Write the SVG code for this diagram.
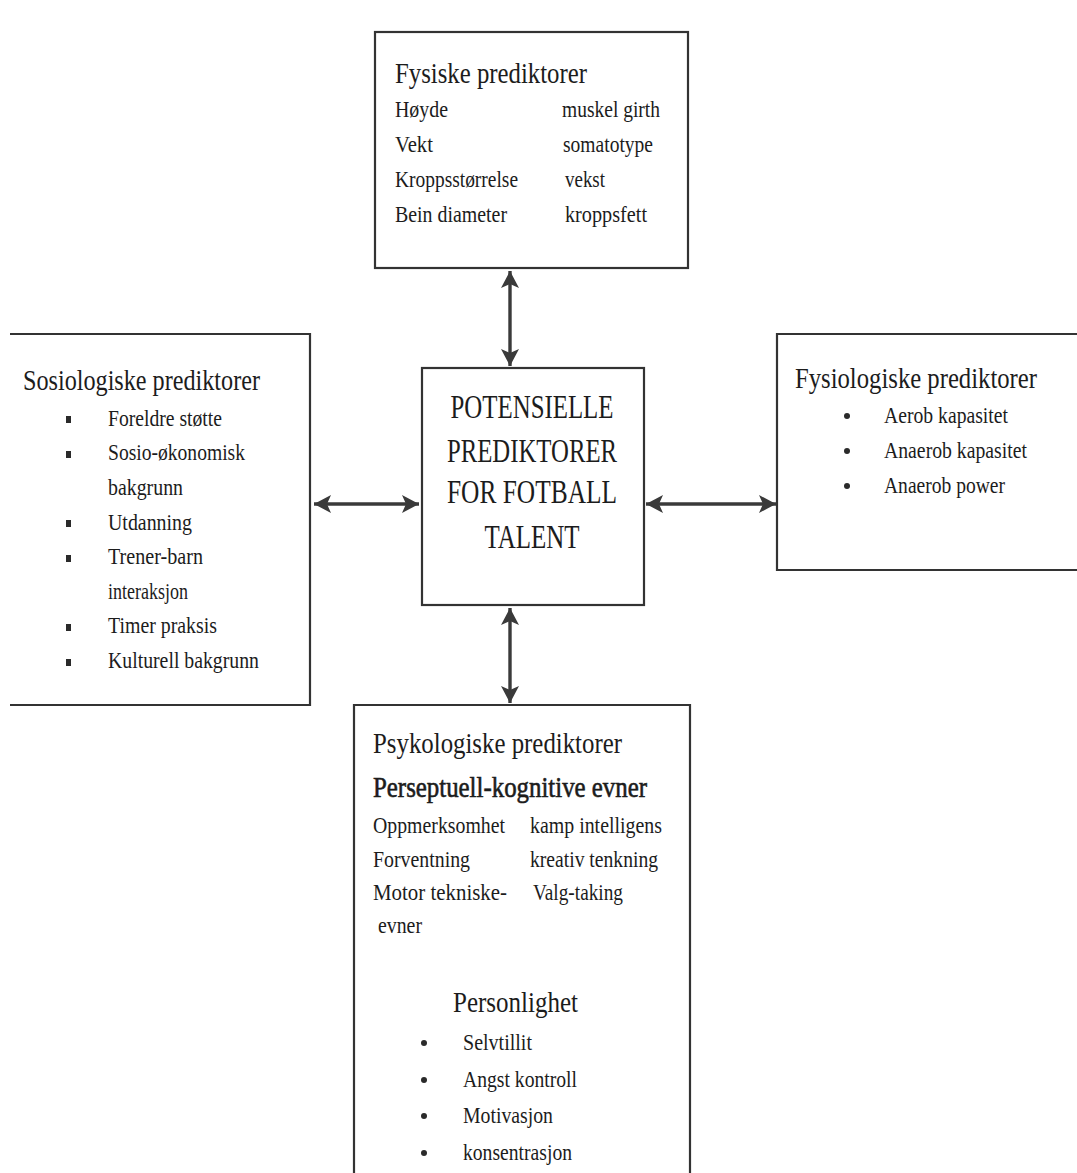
<svg xmlns="http://www.w3.org/2000/svg" width="1077" height="1173" viewBox="0 0 1077 1173">
<style>
.box{fill:#fff;stroke:#333;stroke-width:2.2}
text{font-family:"Liberation Serif","Times New Roman",serif;fill:#1c1c1c}
.h{font-size:29px}
.i{font-size:24px}
.c{font-size:33px}
.conn{stroke:#3a3a3a;stroke-width:3.4;fill:none;marker-start:url(#ah);marker-end:url(#ah)}
.b{fill:#2a2a2a}
</style>
<defs>
<marker id="ah" markerUnits="userSpaceOnUse" markerWidth="20" markerHeight="18" refX="17" refY="9" orient="auto-start-reverse">
<path d="M0,0 L17,9 L0,18 L4,9 z" fill="#3a3a3a"/>
</marker>
</defs>
<rect width="1077" height="1173" fill="#fff"/>

<g id="connectors">
<line class="conn" x1="510" y1="271" x2="510" y2="366"/>
<line class="conn" x1="314" y1="504" x2="419" y2="504"/>
<line class="conn" x1="646" y1="504" x2="776" y2="504"/>
<line class="conn" x1="510" y1="608" x2="510" y2="703"/>
</g>

<g id="fysiske">
<rect class="box" x="375" y="32" width="313" height="236"/>
<text class="h" x="395" y="83" textLength="192" lengthAdjust="spacingAndGlyphs">Fysiske prediktorer</text>
<text class="i" x="395" y="117" textLength="53" lengthAdjust="spacingAndGlyphs">Høyde</text>
<text class="i" x="395" y="152" textLength="38" lengthAdjust="spacingAndGlyphs">Vekt</text>
<text class="i" x="395" y="187" textLength="123" lengthAdjust="spacingAndGlyphs">Kroppsstørrelse</text>
<text class="i" x="395" y="222" textLength="112" lengthAdjust="spacingAndGlyphs">Bein diameter</text>
<text class="i" x="562" y="117" textLength="98" lengthAdjust="spacingAndGlyphs">muskel girth</text>
<text class="i" x="563" y="152" textLength="90" lengthAdjust="spacingAndGlyphs">somatotype</text>
<text class="i" x="565" y="187" textLength="40" lengthAdjust="spacingAndGlyphs">vekst</text>
<text class="i" x="565" y="222" textLength="82" lengthAdjust="spacingAndGlyphs">kroppsfett</text>
</g>

<g id="sosiologiske">
<rect x="10" y="334" width="300" height="371" fill="#fff"/>
<path d="M10,334 H310 V705 H10" fill="none" stroke="#333" stroke-width="2.2"/>
<text class="h" x="23" y="390" textLength="237" lengthAdjust="spacingAndGlyphs">Sosiologiske prediktorer</text>
<rect class="b" x="66" y="416" width="5" height="7"/>
<text class="i" x="108" y="426" textLength="114" lengthAdjust="spacingAndGlyphs">Foreldre støtte</text>
<rect class="b" x="66" y="451" width="5" height="7"/>
<text class="i" x="108" y="460" textLength="137" lengthAdjust="spacingAndGlyphs">Sosio-økonomisk</text>
<text class="i" x="108" y="495" textLength="75" lengthAdjust="spacingAndGlyphs">bakgrunn</text>
<rect class="b" x="66" y="520" width="5" height="7"/>
<text class="i" x="108" y="530" textLength="84" lengthAdjust="spacingAndGlyphs">Utdanning</text>
<rect class="b" x="66" y="555" width="5" height="7"/>
<text class="i" x="108" y="564" textLength="95" lengthAdjust="spacingAndGlyphs">Trener-barn</text>
<text class="i" x="108" y="599" textLength="80" lengthAdjust="spacingAndGlyphs">interaksjon</text>
<rect class="b" x="66" y="624" width="5" height="7"/>
<text class="i" x="108" y="633" textLength="109" lengthAdjust="spacingAndGlyphs">Timer praksis</text>
<rect class="b" x="66" y="659" width="5" height="7"/>
<text class="i" x="108" y="668" textLength="151" lengthAdjust="spacingAndGlyphs">Kulturell bakgrunn</text>
</g>

<g id="fysiologiske">
<rect x="777" y="334" width="310" height="236" fill="#fff"/>
<path d="M1080,334 H777 V570 H1080" fill="none" stroke="#333" stroke-width="2.2"/>
<text class="h" x="795" y="388" textLength="242" lengthAdjust="spacingAndGlyphs">Fysiologiske prediktorer</text>
<circle class="b" cx="847" cy="416" r="3"/>
<text class="i" x="884" y="423" textLength="124" lengthAdjust="spacingAndGlyphs">Aerob kapasitet</text>
<circle class="b" cx="847" cy="451" r="3"/>
<text class="i" x="884" y="458" textLength="143" lengthAdjust="spacingAndGlyphs">Anaerob kapasitet</text>
<circle class="b" cx="847" cy="486" r="3"/>
<text class="i" x="884" y="493" textLength="121" lengthAdjust="spacingAndGlyphs">Anaerob power</text>
</g>

<g id="sentral">
<rect class="box" x="422" y="368" width="222" height="237"/>
<text class="c" x="532" y="418" text-anchor="middle" textLength="163" lengthAdjust="spacingAndGlyphs">POTENSIELLE</text>
<text class="c" x="532" y="462" text-anchor="middle" textLength="170" lengthAdjust="spacingAndGlyphs">PREDIKTORER</text>
<text class="c" x="532" y="503" text-anchor="middle" textLength="170" lengthAdjust="spacingAndGlyphs">FOR FOTBALL</text>
<text class="c" x="532" y="548" text-anchor="middle" textLength="95" lengthAdjust="spacingAndGlyphs">TALENT</text>
</g>

<g id="psykologiske">
<rect x="354" y="705" width="336" height="480" fill="#fff"/>
<path d="M354,1180 V705 H690 V1180" fill="none" stroke="#333" stroke-width="2.2"/>
<text class="h" x="373" y="753" textLength="249" lengthAdjust="spacingAndGlyphs">Psykologiske prediktorer</text>
<text class="h" x="373" y="797" textLength="274" lengthAdjust="spacingAndGlyphs" stroke="#1c1c1c" stroke-width="0.6">Perseptuell-kognitive evner</text>
<text class="i" x="373" y="833" textLength="132" lengthAdjust="spacingAndGlyphs">Oppmerksomhet</text>
<text class="i" x="373" y="867" textLength="97" lengthAdjust="spacingAndGlyphs">Forventning</text>
<text class="i" x="373" y="900" textLength="134" lengthAdjust="spacingAndGlyphs">Motor  tekniske-</text>
<text class="i" x="378" y="933" textLength="44" lengthAdjust="spacingAndGlyphs">evner</text>
<text class="i" x="530" y="833" textLength="132" lengthAdjust="spacingAndGlyphs">kamp intelligens</text>
<text class="i" x="530" y="867" textLength="128" lengthAdjust="spacingAndGlyphs">kreativ tenkning</text>
<text class="i" x="533" y="900" textLength="90" lengthAdjust="spacingAndGlyphs">Valg-taking</text>
<text class="h" x="453" y="1012" textLength="125" lengthAdjust="spacingAndGlyphs">Personlighet</text>
<circle class="b" cx="424" cy="1043" r="3"/>
<text class="i" x="463" y="1050" textLength="69" lengthAdjust="spacingAndGlyphs">Selvtillit</text>
<circle class="b" cx="424" cy="1080" r="3"/>
<text class="i" x="463" y="1087" textLength="114" lengthAdjust="spacingAndGlyphs">Angst kontroll</text>
<circle class="b" cx="424" cy="1116" r="3"/>
<text class="i" x="463" y="1123" textLength="90" lengthAdjust="spacingAndGlyphs">Motivasjon</text>
<circle class="b" cx="424" cy="1153" r="3"/>
<text class="i" x="463" y="1160" textLength="109" lengthAdjust="spacingAndGlyphs">konsentrasjon</text>
</g>
</svg>
